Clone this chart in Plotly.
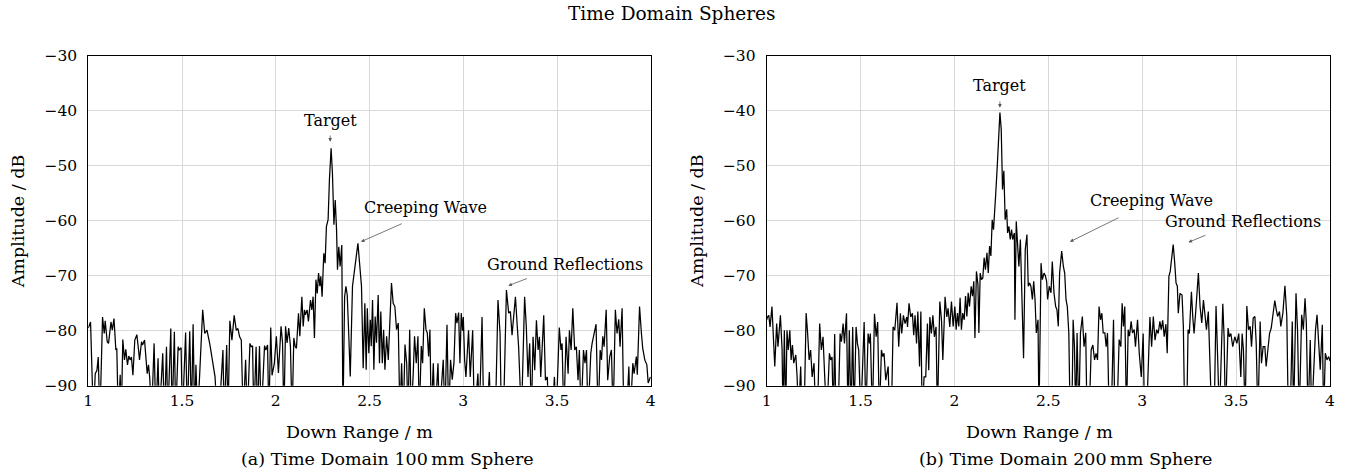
import plotly.graph_objects as go

# ---------------- data ----------------
x_ticks = [1, 1.5, 2, 2.5, 3, 3.5, 4]
x_tick_labels = ["1", "1.5", "2", "2.5", "3", "3.5", "4"]
y_ticks = [-90, -80, -70, -60, -50, -40, -30]
y_tick_labels = ["\u221290", "\u221280", "\u221270", "\u221260", "\u221250", "\u221240", "\u221230"]

# (a) 100 mm sphere: down range (m) / amplitude (dB)
a_x = [
    1.000, 1.012, 1.027, 1.037, 1.046, 1.053, 1.062, 1.076, 1.085, 1.090,
    1.101, 1.108, 1.121, 1.128, 1.137, 1.147, 1.152, 1.160, 1.170, 1.176,
    1.184, 1.193, 1.200, 1.209, 1.216, 1.223, 1.230, 1.238, 1.248, 1.259,
    1.268, 1.273, 1.284, 1.289, 1.300, 1.307, 1.314, 1.321, 1.328, 1.337,
    1.351, 1.360, 1.372, 1.379, 1.397, 1.406, 1.417, 1.424, 1.440, 1.447,
    1.459, 1.466, 1.479, 1.484, 1.495, 1.502, 1.519, 1.528, 1.541, 1.550,
    1.559, 1.567, 1.574, 1.583, 1.595, 1.610, 1.621, 1.633, 1.649, 1.661,
    1.676, 1.688, 1.697, 1.718, 1.725, 1.738, 1.745, 1.755, 1.766, 1.778,
    1.789, 1.798, 1.807, 1.816, 1.826, 1.839, 1.848, 1.862, 1.869, 1.876,
    1.883, 1.895, 1.902, 1.913, 1.922, 1.940, 1.947, 1.956, 1.963, 1.973,
    1.980, 1.992, 2.003, 2.014, 2.028, 2.036, 2.043, 2.052, 2.060, 2.069,
    2.078, 2.087, 2.096, 2.103, 2.110, 2.121, 2.128, 2.139, 2.146, 2.153,
    2.158, 2.167, 2.174, 2.185, 2.192, 2.199, 2.206, 2.214, 2.221, 2.228,
    2.235, 2.240, 2.247, 2.256, 2.263, 2.270, 2.279, 2.286, 2.295, 2.302,
    2.310, 2.317, 2.324, 2.329, 2.336, 2.343, 2.352, 2.358, 2.367, 2.374,
    2.381, 2.390, 2.397, 2.409, 2.418, 2.429, 2.438, 2.445, 2.452, 2.457,
    2.466, 2.475, 2.482, 2.488, 2.496, 2.504, 2.509, 2.516, 2.523, 2.530,
    2.537, 2.546, 2.553, 2.560, 2.568, 2.575, 2.582, 2.591, 2.600, 2.609,
    2.617, 2.626, 2.635, 2.644, 2.653, 2.662, 2.671, 2.680, 2.689, 2.698,
    2.705, 2.714, 2.722, 2.733, 2.740, 2.749, 2.758, 2.765, 2.776, 2.783,
    2.792, 2.801, 2.808, 2.815, 2.822, 2.829, 2.840, 2.849, 2.865, 2.872,
    2.893, 2.902, 2.913, 2.922, 2.932, 2.941, 2.950, 2.959, 2.966, 2.975,
    2.982, 2.989, 2.996, 3.000, 3.007, 3.014, 3.028, 3.037, 3.050, 3.059,
    3.078, 3.085, 3.100, 3.109, 3.126, 3.139, 3.146, 3.171, 3.185, 3.196,
    3.203, 3.214, 3.230, 3.242, 3.251, 3.260, 3.278, 3.288, 3.295, 3.310,
    3.327, 3.336, 3.345, 3.354, 3.363, 3.372, 3.381, 3.390, 3.399, 3.406,
    3.413, 3.429, 3.438, 3.448, 3.456, 3.473, 3.486, 3.495, 3.512, 3.521,
    3.527, 3.536, 3.548, 3.559, 3.566, 3.575, 3.584, 3.594, 3.603, 3.612,
    3.619, 3.628, 3.641, 3.649, 3.657, 3.665, 3.680, 3.687, 3.698, 3.708,
    3.719, 3.730, 3.737, 3.744, 3.751, 3.762, 3.770, 3.781, 3.790, 3.799,
    3.811, 3.820, 3.829, 3.836, 3.847, 3.856, 3.870, 3.883, 3.890, 3.904,
    3.911, 3.923, 3.928, 3.940, 3.950, 3.957, 3.968, 3.979, 3.986, 3.998,
]
a_y = [
    -79.5, -78.4, -96, -87.8, -87.2, -84.8, -96, -77.5, -80.5, -78.2,
    -82.0, -82.3, -78.4, -79.9, -77.8, -83.5, -83.2, -96, -88.0, -96,
    -81.6, -85.3, -83.4, -86.2, -84.6, -85.3, -84.8, -88.1, -81.7, -80.7,
    -83.5, -85.3, -82.0, -82.6, -81.7, -85.3, -87.8, -86.2, -88.7, -96,
    -82.3, -96, -85.0, -96, -84.1, -96, -82.9, -96, -79.6, -96,
    -80.2, -96, -82.9, -83.5, -83.1, -96, -80.3, -96, -80.1, -96,
    -78.8, -96, -86.2, -96, -88.0, -76.2, -80.5, -79.9, -82.6, -85.3,
    -88.4, -96, -96, -83.5, -96, -82.6, -96, -78.2, -81.7, -77.2,
    -79.9, -79.6, -81.1, -81.7, -96, -85.3, -96, -82.3, -82.9, -82.8,
    -96, -82.9, -96, -82.8, -96, -82.7, -83.5, -82.6, -96, -79.4,
    -88.1, -86.0, -81.0, -87.7, -79.2, -82.2, -96, -79.2, -82.2, -79.5,
    -82.8, -96, -81.3, -82.8, -83.2, -76.8, -81.0, -73.8, -79.2, -76.2,
    -77.1, -76.2, -78.3, -74.4, -76.2, -73.8, -81.3, -70.7, -73.2, -69.5,
    -71.9, -70.1, -73.8, -65.9, -67.7, -61.0, -59.8, -52.5, -46.8, -51.3,
    -60.7, -56.2, -61.6, -68.9, -64.7, -68.3, -64.4, -96, -73.8, -71.9,
    -73.5, -81.6, -88.3, -71.9, -68.9, -66.5, -64.1, -67.7, -71.0, -71.9,
    -86.8, -75.0, -87.1, -75.9, -84.1, -78.0, -82.8, -74.4, -87.1, -77.4,
    -82.2, -73.5, -85.9, -76.5, -85.9, -79.8, -87.1, -81.0, -85.3, -79.2,
    -71.3, -75.0, -75.6, -79.8, -78.6, -96, -85.9, -96, -82.5, -85.9,
    -96, -79.8, -96, -87.7, -81.0, -85.9, -81.0, -96, -82.8, -85.9,
    -75.9, -79.8, -80.4, -84.7, -79.8, -96, -85.9, -96, -85.9, -96,
    -85.3, -96, -78.9, -96, -85.3, -88.9, -85.9, -76.8, -78.6, -76.7,
    -85.9, -76.8, -80.0, -77.5, -85.3, -88.4, -79.9, -88.4, -79.9, -96,
    -87.8, -96, -77.5, -96, -96, -87.5, -96, -96, -74.4, -80.5,
    -96, -96, -72.6, -76.8, -76.5, -80.8, -73.8, -79.3, -82.9, -96,
    -73.8, -79.3, -88.4, -82.3, -96, -81.1, -87.2, -78.1, -83.5, -81.1,
    -88.4, -77.2, -89.0, -88.4, -96, -96, -88.4, -96, -79.4, -83.5,
    -82.3, -96, -81.1, -87.8, -79.9, -83.5, -75.9, -83.5, -82.9, -89.0,
    -83.5, -96, -83.5, -85.9, -83.5, -96, -84.1, -82.3, -80.5, -78.8,
    -96, -83.5, -85.3, -81.0, -82.9, -76.2, -89.0, -84.7, -83.5, -96,
    -76.2, -80.5, -77.9, -82.9, -75.9, -96, -96, -86.5, -96, -85.9,
    -87.8, -84.7, -88.0, -75.6, -80.5, -83.2, -85.3, -86.2, -89.5, -88.4,
]

# (b) 200 mm sphere: down range (m) / amplitude (dB)
b_x = [
    1.000, 1.004, 1.011, 1.018, 1.028, 1.037, 1.043, 1.053, 1.060, 1.073,
    1.082, 1.087, 1.094, 1.101, 1.108, 1.115, 1.123, 1.130, 1.137, 1.144,
    1.155, 1.162, 1.169, 1.181, 1.188, 1.199, 1.210, 1.218, 1.226, 1.234,
    1.242, 1.252, 1.261, 1.270, 1.282, 1.291, 1.300, 1.309, 1.320, 1.334,
    1.341, 1.348, 1.355, 1.362, 1.369, 1.380, 1.391, 1.398, 1.407, 1.414,
    1.425, 1.433, 1.440, 1.449, 1.458, 1.465, 1.476, 1.483, 1.490, 1.501,
    1.519, 1.528, 1.540, 1.547, 1.552, 1.563, 1.574, 1.583, 1.591, 1.600,
    1.611, 1.618, 1.625, 1.634, 1.647, 1.654, 1.664, 1.673, 1.682, 1.694,
    1.703, 1.712, 1.719, 1.728, 1.737, 1.746, 1.750, 1.758, 1.767, 1.776,
    1.783, 1.790, 1.798, 1.805, 1.814, 1.821, 1.828, 1.838, 1.847, 1.856,
    1.863, 1.869, 1.877, 1.885, 1.893, 1.902, 1.909, 1.922, 1.931, 1.938,
    1.950, 1.959, 1.966, 1.975, 1.984, 1.993, 2.002, 2.009, 2.016, 2.023,
    2.030, 2.037, 2.044, 2.052, 2.059, 2.066, 2.073, 2.080, 2.089, 2.096,
    2.103, 2.109, 2.117, 2.125, 2.130, 2.137, 2.144, 2.151, 2.158, 2.165,
    2.173, 2.180, 2.187, 2.194, 2.201, 2.208, 2.215, 2.219, 2.228, 2.235,
    2.242, 2.249, 2.256, 2.263, 2.270, 2.278, 2.283, 2.290, 2.297, 2.304,
    2.310, 2.319, 2.322, 2.329, 2.336, 2.343, 2.351, 2.356, 2.363, 2.368,
    2.377, 2.386, 2.393, 2.400, 2.407, 2.415, 2.422, 2.429, 2.436, 2.445,
    2.450, 2.461, 2.468, 2.477, 2.484, 2.491, 2.496, 2.505, 2.514, 2.521,
    2.530, 2.539, 2.546, 2.553, 2.560, 2.571, 2.580, 2.587, 2.594, 2.601,
    2.609, 2.616, 2.625, 2.632, 2.639, 2.646, 2.653, 2.662, 2.671, 2.681,
    2.690, 2.699, 2.706, 2.717, 2.728, 2.737, 2.746, 2.754, 2.762, 2.770,
    2.778, 2.785, 2.792, 2.801, 2.808, 2.815, 2.824, 2.835, 2.847, 2.854,
    2.865, 2.877, 2.886, 2.893, 2.900, 2.907, 2.916, 2.925, 2.932, 2.941,
    2.948, 2.957, 2.964, 2.975, 2.984, 2.995, 3.005, 3.012, 3.023, 3.041,
    3.050, 3.059, 3.068, 3.077, 3.085, 3.094, 3.101, 3.109, 3.117, 3.126,
    3.133, 3.142, 3.149, 3.158, 3.165, 3.173, 3.180, 3.187, 3.192, 3.201,
    3.212, 3.219, 3.226, 3.237, 3.244, 3.251, 3.262, 3.269, 3.276, 3.286,
    3.299, 3.308, 3.317, 3.326, 3.335, 3.342, 3.352, 3.361, 3.370, 3.383,
    3.393, 3.402, 3.411, 3.429, 3.436, 3.443, 3.457, 3.464, 3.472, 3.482,
    3.493, 3.504, 3.514, 3.525, 3.532, 3.539, 3.548, 3.557, 3.566, 3.575,
    3.582, 3.591, 3.600, 3.607, 3.616, 3.628, 3.635, 3.644, 3.653, 3.660,
    3.669, 3.678, 3.687, 3.696, 3.706, 3.714, 3.721, 3.731, 3.738, 3.749,
    3.760, 3.770, 3.778, 3.788, 3.799, 3.806, 3.819, 3.827, 3.836, 3.849,
    3.858, 3.867, 3.874, 3.883, 3.895, 3.902, 3.913, 3.923, 3.931, 3.940,
    3.948, 3.959, 3.966, 3.975, 3.984, 3.993, 4.000,
]
b_y = [
    -78.0, -77.5, -77.2, -79.3, -75.6, -81.1, -86.5, -78.7, -82.9, -77.2,
    -83.5, -96, -79.9, -96, -79.9, -83.5, -79.9, -85.3, -82.6, -85.9,
    -84.4, -88.4, -96, -86.5, -96, -96, -76.8, -80.5, -85.3, -83.5,
    -88.4, -85.9, -96, -96, -78.7, -83.5, -81.1, -88.4, -96, -84.1,
    -85.3, -84.8, -96, -80.6, -96, -96, -80.5, -82.0, -78.7, -82.3,
    -76.8, -96, -79.9, -96, -79.3, -96, -79.3, -82.3, -83.5, -96,
    -78.4, -96, -80.5, -82.3, -80.5, -96, -76.9, -81.1, -78.4, -96,
    -83.5, -84.7, -84.1, -89.0, -86.5, -96, -96, -79.3, -79.9, -74.9,
    -82.9, -76.8, -80.5, -77.2, -78.7, -77.5, -79.3, -75.0, -77.5, -76.8,
    -80.8, -77.2, -82.3, -76.5, -86.5, -76.5, -96, -88.4, -88.4, -78.7,
    -87.2, -77.5, -80.5, -77.2, -81.1, -79.3, -96, -74.7, -78.1, -85.3,
    -73.8, -77.5, -75.9, -79.3, -74.7, -79.2, -75.6, -79.8, -76.8, -79.2,
    -74.0, -79.8, -76.8, -78.0, -73.7, -77.4, -73.1, -75.6, -71.9, -73.7,
    -71.0, -81.3, -69.2, -71.6, -80.4, -69.5, -70.7, -70.4, -66.7, -68.9,
    -65.8, -69.5, -64.6, -66.4, -59.8, -61.6, -56.1, -55.5, -50.0, -44.0,
    -40.3, -43.3, -54.3, -50.9, -59.8, -57.9, -62.2, -61.0, -63.4, -61.6,
    -63.4, -62.2, -78.0, -60.1, -63.4, -68.3, -63.4, -70.1, -74.3, -85.0,
    -65.2, -62.5, -71.9, -71.3, -71.9, -74.3, -71.0, -74.3, -80.4, -78.0,
    -96, -67.7, -70.7, -69.5, -70.0, -71.0, -74.3, -71.9, -73.1, -67.4,
    -73.1, -75.6, -76.2, -79.2, -69.5, -65.5, -68.3, -69.5, -74.3, -75.6,
    -80.4, -96, -96, -78.0, -82.9, -96, -80.4, -96, -80.4, -77.4,
    -82.9, -80.4, -96, -96, -83.5, -82.6, -85.3, -84.1, -85.3, -75.6,
    -78.0, -76.8, -80.4, -80.4, -82.9, -80.4, -96, -96, -78.0, -96,
    -96, -81.6, -82.9, -75.0, -79.2, -75.6, -96, -79.8, -81.0, -78.3,
    -80.4, -79.8, -82.9, -78.0, -84.1, -88.4, -80.5, -96, -96, -77.5,
    -82.9, -77.4, -81.7, -79.8, -80.5, -78.3, -79.8, -78.1, -81.1, -78.8,
    -84.1, -70.1, -69.2, -66.5, -64.3, -67.7, -71.3, -71.9, -76.8, -73.2,
    -73.5, -79.2, -96, -96, -79.8, -80.5, -72.9, -77.4, -80.5, -76.0,
    -69.5, -75.6, -78.6, -74.4, -77.4, -79.8, -76.5, -85.9, -96, -96,
    -75.5, -85.3, -96, -75.1, -81.1, -96, -79.5, -81.1, -80.5, -82.9,
    -81.1, -82.3, -80.5, -88.4, -80.5, -83.5, -96, -75.5, -79.8, -79.2,
    -82.9, -77.7, -77.4, -82.3, -96, -78.3, -85.9, -82.9, -82.9, -86.5,
    -83.5, -80.5, -79.5, -76.8, -74.5, -76.2, -77.4, -76.5, -79.2, -76.8,
    -71.8, -77.4, -96, -96, -78.3, -96, -73.2, -79.8, -96, -77.1,
    -79.8, -74.1, -78.6, -96, -81.7, -96, -85.9, -79.8, -77.1, -82.3,
    -87.1, -78.9, -96, -84.1, -85.3, -84.7, -85.5,
]

# ---------------- figure ----------------
FONT = "DejaVu Serif"
W, H = 1345, 474

fig = go.Figure()
fig.add_trace(go.Scatter(x=a_x, y=a_y, mode="lines", xaxis="x", yaxis="y",
                         line=dict(color="black", width=1.25), showlegend=False,
                         hoverinfo="skip"))
fig.add_trace(go.Scatter(x=b_x, y=b_y, mode="lines", xaxis="x2", yaxis="y2",
                         line=dict(color="black", width=1.25), showlegend=False,
                         hoverinfo="skip"))

def px_x(p):
    return p / W

def px_y(p):
    return 1 - p / H

xa = dict(range=[1, 4], tickvals=x_ticks, ticktext=x_tick_labels,
          showgrid=True, gridcolor="#d9d9d9", gridwidth=1,
          showline=True, linecolor="black", linewidth=1, mirror=True,
          ticks="", zeroline=False, ticklabelstandoff=1, automargin=False,
          tickfont=dict(family=FONT, size=15.5, color="black"), fixedrange=True)
ya = dict(range=[-90, -30], tickvals=y_ticks, ticktext=y_tick_labels,
          showgrid=True, gridcolor="#d9d9d9", gridwidth=1,
          showline=True, linecolor="black", linewidth=1, mirror=True,
          ticks="", zeroline=False, ticklabelstandoff=7, automargin=False,
          tickfont=dict(family=FONT, size=15.5, color="black"), fixedrange=True)

ydom = [px_y(385.7), px_y(56)]
fig.update_layout(
    width=W, height=H, autosize=False,
    margin=dict(l=0, r=0, t=0, b=0, pad=0),
    paper_bgcolor="white", plot_bgcolor="white",
    xaxis=dict(xa, domain=[px_x(88.3), px_x(650.8)], anchor="y"),
    yaxis=dict(ya, domain=ydom, anchor="x"),
    xaxis2=dict(xa, domain=[px_x(766.7), px_x(1330)], anchor="y2"),
    yaxis2=dict(ya, domain=ydom, anchor="x2"),
    font=dict(family=FONT, color="black"),
)

ann = []
def ptext(text, x, y, size, angle=0):
    ann.append(dict(text=text, x=px_x(x), y=px_y(y), xref="paper", yref="paper",
                    showarrow=False, xanchor="center", yanchor="middle",
                    textangle=angle, font=dict(family=FONT, size=size, color="black")))

ptext("Time Domain Spheres", 672, 14, 18.5)
ptext("Down Range / m", 360, 432, 17.5)
ptext("Down Range / m", 1039, 432, 17.5)
ptext("(a) Time Domain 100\u2009mm Sphere", 387, 459, 17.5)
ptext("(b) Time Domain 200\u2009mm Sphere", 1065, 459, 17.5)
ptext("Amplitude / dB", 18.3, 221, 17.5, -90)
ptext("Amplitude / dB", 697, 221, 17.5, -90)

def dtext(text, x, y, xr, yr):
    ann.append(dict(text=text, x=x, y=y, xref=xr, yref=yr, showarrow=False,
                    xanchor="center", yanchor="middle",
                    font=dict(family=FONT, size=16, color="black")))

def darrow(hx, hy, tx, ty, xr, yr):
    ann.append(dict(text="", x=hx, y=hy, ax=tx, ay=ty, xref=xr, yref=yr,
                    axref=xr, ayref=yr, showarrow=True, arrowhead=2,
                    arrowsize=0.9, arrowwidth=0.8, arrowcolor="#555555",
                    standoff=0, startstandoff=0))

# panel (a)
dtext("Target", 2.29, -41.8, "x", "y")
darrow(2.29, -45.6, 2.29, -44.2, "x", "y")
dtext("Creeping Wave", 2.796, -57.6, "x", "y")
darrow(2.454, -63.8, 2.680, -60.4, "x", "y")
dtext("Ground Reflections", 3.541, -68.0, "x", "y")
darrow(3.240, -71.8, 3.347, -70.4, "x", "y")
# panel (b)
dtext("Target", 2.242, -35.3, "x2", "y2")
darrow(2.242, -39.4, 2.242, -38.0, "x2", "y2")
dtext("Creeping Wave", 3.051, -56.3, "x2", "y2")
darrow(2.615, -63.8, 2.882, -59.3, "x2", "y2")
dtext("Ground Reflections", 3.539, -60.1, "x2", "y2")
darrow(3.246, -63.9, 3.345, -62.5, "x2", "y2")

fig.update_layout(annotations=ann)
fig.write_html("out.html")
